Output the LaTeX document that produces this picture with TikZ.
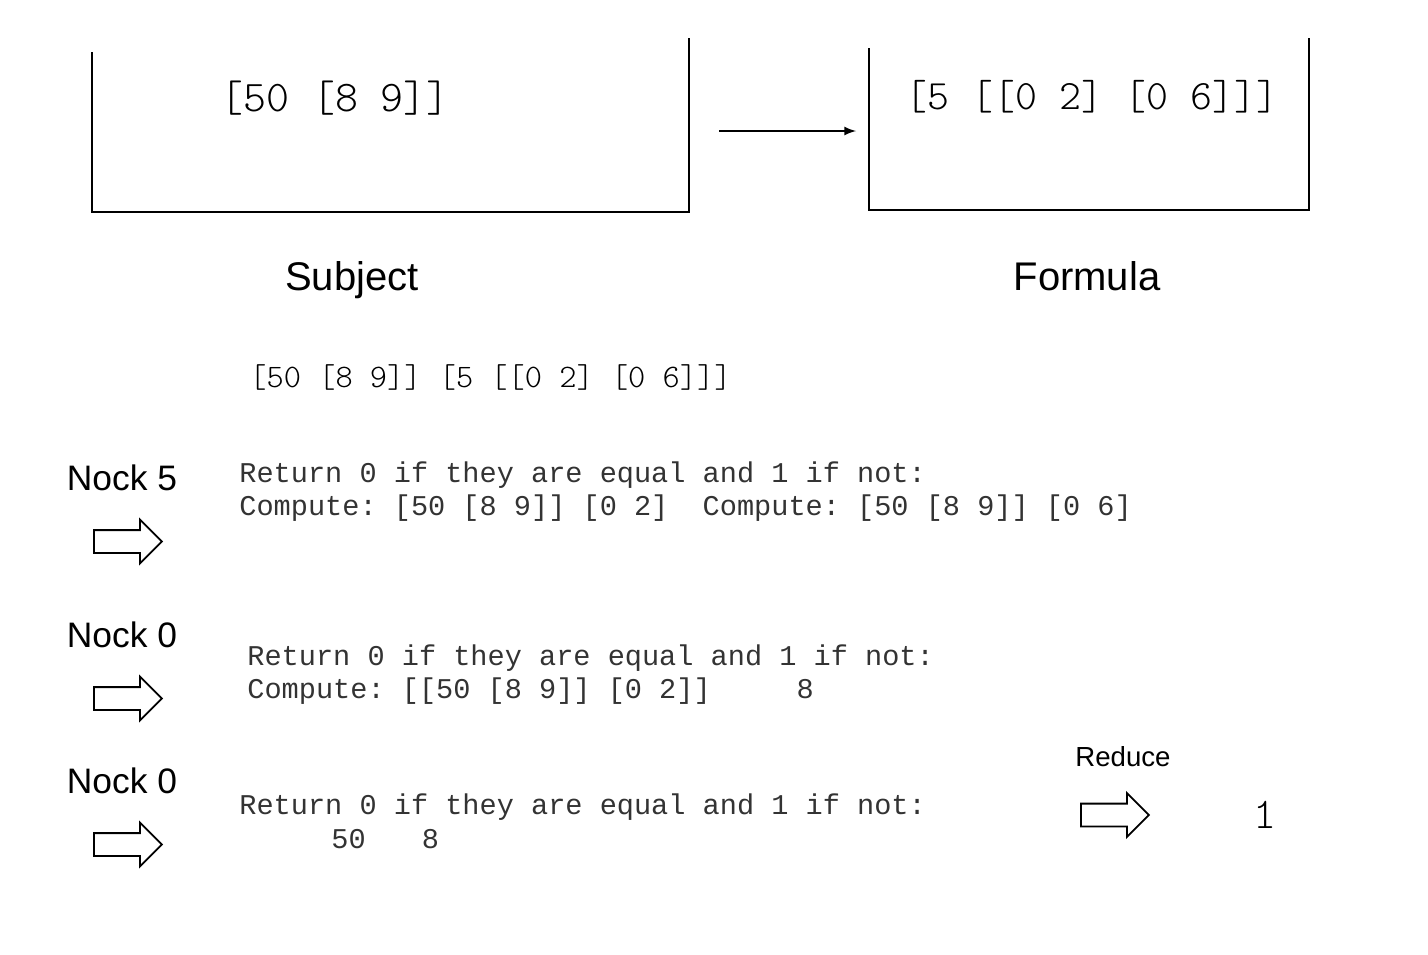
\documentclass[tikz,border=0pt]{standalone}
\usepackage{fontspec}
\usetikzlibrary{shapes.arrows}
\setmainfont{Liberation Sans}
\newfontfamily\courierfont{Liberation Mono}
\newfontfamily\thinmono{Latin Modern Mono Light}
\definecolor{code-gray}{gray}{0.2}
\tikzstyle{boxline}=[line width=1pt]
\tikzstyle{boxcode}=[anchor=base, font=\frenchspacing\thinmono\fontsize{21.9}{24}\selectfont]
\tikzstyle{caption}=[anchor=base, font=\fontsize{20}{24}\selectfont]
\tikzstyle{nocklabel}=[font=\fontsize{17.7}{21}\selectfont]
\tikzstyle{codeline}=[anchor=base west, inner sep=0pt, text=code-gray, font=\frenchspacing\courierfont\fontsize{14.3}{17}\selectfont]
\tikzstyle{blockarrow}=[single arrow, draw, anchor=west, line width=0.9pt, minimum height=34pt, inner xsep=0pt, inner ysep=5.25pt, single arrow head extend=5.25pt]
\newcommand{\nockstep}[2]{% label, y of block arrow
	\node[nocklabel] (nock#2) at (122,#2-64) {#1};
	\node[blockarrow] (step#2) at (93,#2) {};
}

\begin{document}
\begin{tikzpicture}[x=0.5pt,y=-0.5pt]
\useasboundingbox (0,0) rectangle (1428,954);
% subject and formula boxes (open at the top)
\draw[boxline] (92,52) |- (689,212) -- (689,38);
\draw[boxline] (869,48) |- (1309,210) -- (1309,38);
\node[boxcode] (subjcode) at (335,111) {[50 [8 9]]};
\node[boxcode, font=\frenchspacing\thinmono\fontsize{20.9}{24}\selectfont] (formcode) at (1092,109) {[5 [[0 2] [0 6]]]};
\coordinate (arrowfrom) at (719,131);
\coordinate (arrowto) at (856,131);
\draw[line width=1pt,-latex] (arrowfrom) -- (arrowto);
\node[caption] (subject) at (352,290) {Subject};
\node[caption] (formula) at (1087,290) {Formula};
% whole expression
\node[anchor=base west, inner sep=0pt, font=\frenchspacing\thinmono\fontsize{16.4}{19}\selectfont] (noun) at (249,387) {[50 [8 9]] [5 [[0 2] [0 6]]]};
% reduction steps
\nockstep{Nock 5}{541.5}
\node[codeline] (ret1) at (239,482) {Return 0 if they are equal and 1 if not:};
\node[codeline] (comp1) at (239,515) {Compute: [50 [8 9]] [0 2]\ \ Compute: [50 [8 9]] [0 6]};
\nockstep{Nock 0}{698.5}
\node[codeline] (ret2) at (247,665) {Return 0 if they are equal and 1 if not:};
\node[codeline] (comp2) at (247,698) {Compute: [[50 [8 9]] [0 2]]\ \ \ \ \ 8};
\nockstep{Nock 0}{844.5}
\node[codeline] (ret3) at (239,814) {Return 0 if they are equal and 1 if not:};
\node[codeline] (vals3) at (331,848) {50\ \ \ \,8};
% final reduction
\node[font=\fontsize{13.8}{16}\selectfont] (reduce) at (1123,757) {Reduce};
\node[blockarrow] (reducestep) at (1080,815) {};
\node[boxcode] (result) at (1265,828) {1};
\end{tikzpicture}
\end{document}
